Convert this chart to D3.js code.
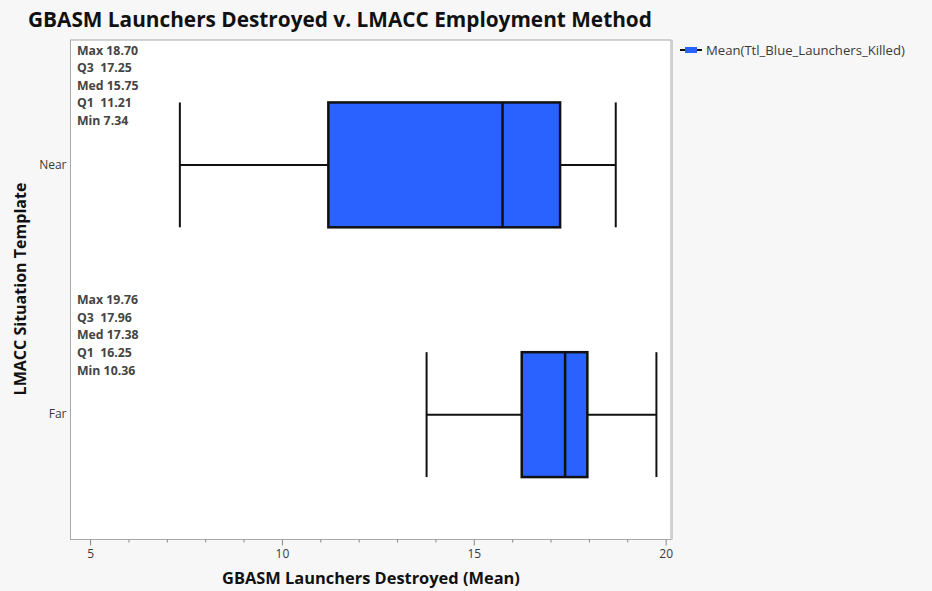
<!DOCTYPE html>
<html><head><meta charset="utf-8">
<script src="https://cdn.jsdelivr.net/npm/d3@7"></script>
<style>
html,body{margin:0;padding:0;background:#f7f7f7;}
svg{display:block;font-family:"Open Sans","Noto Sans",sans-serif;}
text{white-space:pre;}
</style></head>
<body><svg id="chart" width="932" height="591"></svg>
<script>
const categories = ["Near", "Far"];
const maxVals = [18.70, 19.76];
const q3Vals = [17.25, 17.96];
const medVals = [15.75, 17.38];
const q1Vals = [11.21, 16.25];
const minVals = [7.34, 10.36];
const whiskerLow = [7.34, 13.77];
const whiskerHigh = [18.70, 19.76];
const xTicks = [5, 10, 15, 20];
const minorTicks = d3.range(5, 21, 1);
const legendLabel = "Mean(Ttl_Blue_Launchers_Killed)";
const titleText = "GBASM Launchers Destroyed v. LMACC Employment Method";
const xTitle = "GBASM Launchers Destroyed (Mean)";
const yTitle = "LMACC Situation Template";

const svg = d3.select("#chart");
const plot = {l: 70.5, r: 671, t: 40, b: 539.5};
const x = d3.scaleLinear().domain([4.49, 20.14]).range([plot.l, plot.r]);
const y = d3.scaleBand().domain(categories).range([plot.t, plot.b]).paddingInner(0).paddingOuter(0);
const boxFrac = 0.5;
const dark = "#3a3a3a";

function fit(sel, target){
  const w = sel.node().getComputedTextLength();
  const fs = parseFloat(sel.attr("font-size"));
  sel.attr("font-size", fs * target / w);
}

// title
svg.append("text").attr("x", 28).attr("y", 27).attr("font-size", 20).attr("font-weight", "bold")
  .attr("fill", "#111").text(titleText).call(fit, 624);

// plot frame background
svg.append("rect").attr("x", plot.l).attr("y", plot.t).attr("width", plot.r - plot.l).attr("height", plot.b - plot.t)
  .attr("fill", "#ffffff").attr("stroke", "#a8a8a8").attr("stroke-width", 1);
svg.append("line").attr("x1", plot.r + 1).attr("x2", plot.r + 1).attr("y1", plot.t).attr("y2", plot.b)
  .attr("stroke", "#d0d0d0").attr("stroke-width", 2);

// x axis
const xAxis = d3.axisBottom(x).tickValues(xTicks).tickSize(6).tickPadding(4).tickFormat(d3.format("d"));
const gx = svg.append("g").attr("transform", `translate(0,${plot.b})`).call(xAxis);
gx.select(".domain").remove();
gx.selectAll(".tick line").attr("stroke", "#888");
gx.selectAll(".tick text").attr("font-size", 12).attr("fill", dark).attr("font-family", "Open Sans, sans-serif");
const minorAxis = d3.axisBottom(x).tickValues(minorTicks.filter(d => !xTicks.includes(d))).tickSize(3).tickFormat("");
const gm = svg.append("g").attr("transform", `translate(0,${plot.b})`).call(minorAxis);
gm.select(".domain").remove();
gm.selectAll(".tick line").attr("stroke", "#888");

// y axis labels
const yAxis = d3.axisLeft(y).tickSize(0).tickPadding(4);
const gy = svg.append("g").attr("transform", `translate(${plot.l},0)`).call(yAxis);
gy.select(".domain").remove();
gy.selectAll(".tick text").attr("font-size", 12).attr("fill", dark).attr("font-family", "Open Sans, sans-serif");

// axis titles
svg.append("text").attr("x", 371).attr("y", 584).attr("text-anchor", "middle").attr("font-size", 15)
  .attr("font-weight", "bold").attr("fill", "#111").text(xTitle).call(fit, 298);
svg.append("text").attr("transform", "translate(26,289) rotate(-90)").attr("text-anchor", "middle")
  .attr("font-size", 15).attr("font-weight", "bold").attr("fill", "#111").text(yTitle).call(fit, 213);

// stats font size calibrated on a sample line
const probe = svg.append("text").attr("font-size", 12).attr("font-weight", "bold").text("Max 18.70");
const statFs = 12 * 61 / probe.node().getComputedTextLength();
probe.remove();

// boxes
const data = categories.map((c, i) => ({c, max: maxVals[i], q3: q3Vals[i], med: medVals[i], q1: q1Vals[i],
  min: minVals[i], wl: whiskerLow[i], wh: whiskerHigh[i]}));
const bh = y.bandwidth() * boxFrac;
const g = svg.selectAll("g.box").data(data).join("g").attr("class", "box");
g.each(function(d){
  const s = d3.select(this);
  const cy = y(d.c) + y.bandwidth() / 2;
  const top = cy - bh / 2, bot = cy + bh / 2;
  s.append("line").attr("x1", x(d.wl)).attr("x2", x(d.q1)).attr("y1", cy).attr("y2", cy).attr("stroke", "#111").attr("stroke-width", 2);
  s.append("line").attr("x1", x(d.q3)).attr("x2", x(d.wh)).attr("y1", cy).attr("y2", cy).attr("stroke", "#111").attr("stroke-width", 2);
  s.append("line").attr("x1", x(d.wl)).attr("x2", x(d.wl)).attr("y1", top).attr("y2", bot).attr("stroke", "#111").attr("stroke-width", 2);
  s.append("line").attr("x1", x(d.wh)).attr("x2", x(d.wh)).attr("y1", top).attr("y2", bot).attr("stroke", "#111").attr("stroke-width", 2);
  s.append("rect").attr("x", x(d.q1)).attr("y", top).attr("width", x(d.q3) - x(d.q1)).attr("height", bh)
    .attr("fill", "#2962ff").attr("stroke", "#111").attr("stroke-width", 2.5);
  s.append("line").attr("x1", x(d.med)).attr("x2", x(d.med)).attr("y1", top).attr("y2", bot).attr("stroke", "#111").attr("stroke-width", 2.5);
  // stats text
  const lines = [["Max ", d.max], ["Q3  ", d.q3], ["Med ", d.med], ["Q1  ", d.q1], ["Min ", d.min]];
  const t0 = y(d.c) + 14.5;
  lines.forEach((ln, k) => {
    s.append("text").attr("x", 77).attr("y", t0 + k * 17.6).attr("font-size", statFs).attr("font-weight", "bold")
      .attr("fill", "#444").text(ln[0] + d3.format(".2f")(ln[1]));
  });
});

// legend
const lg = svg.append("g").attr("transform", "translate(680,50)");
lg.append("line").attr("x1", 0).attr("x2", 22).attr("y1", 0).attr("y2", 0).attr("stroke", "#111").attr("stroke-width", 2);
lg.append("rect").attr("x", 5).attr("y", -3).attr("width", 12).attr("height", 6).attr("fill", "#2962ff");
lg.append("text").attr("x", 26).attr("y", 4.5).attr("font-size", 12).attr("fill", dark).text(legendLabel).call(fit, 199);
</script></body></html>
